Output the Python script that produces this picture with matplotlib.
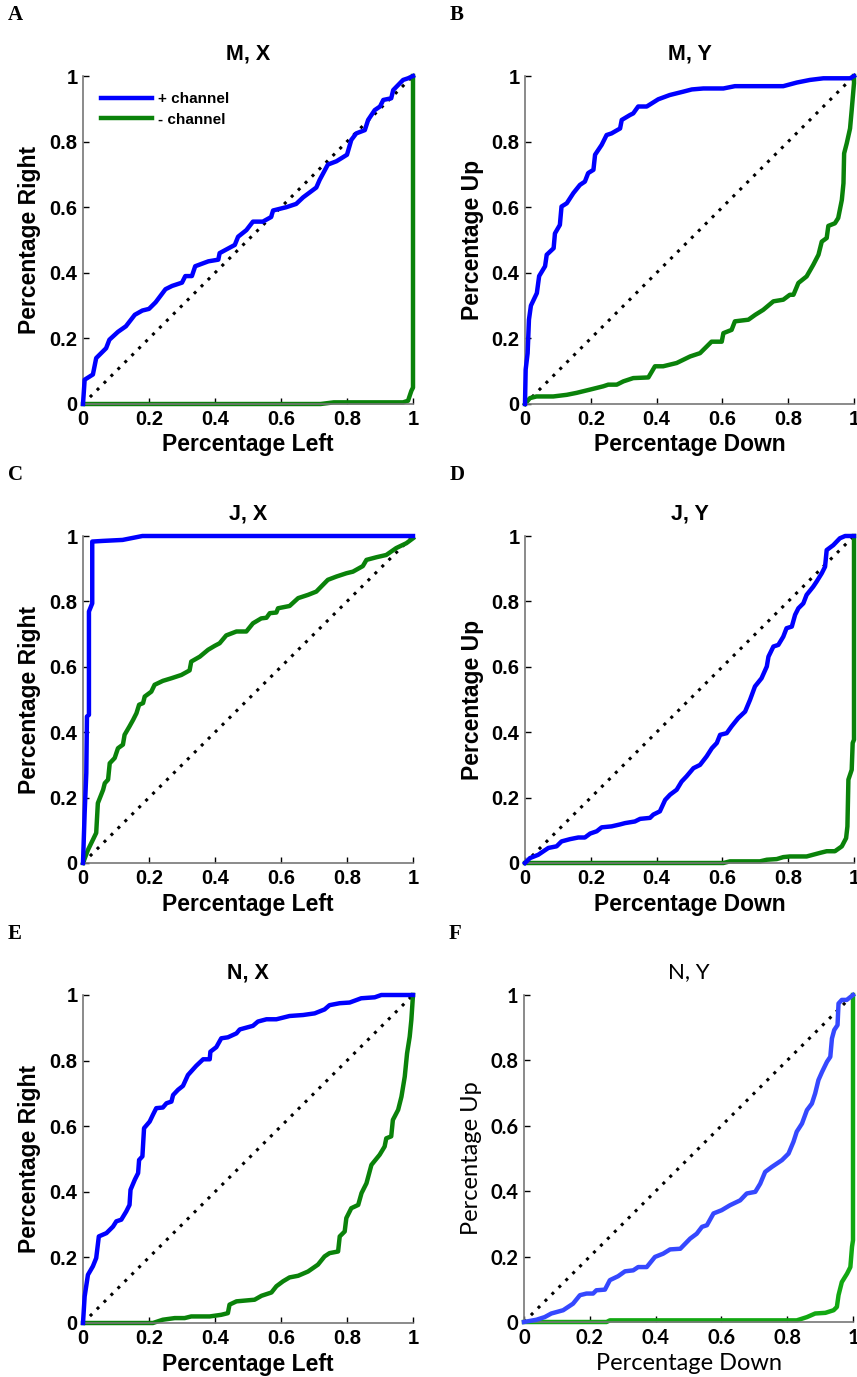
"""Six ROC-style panels: + channel vs - channel, M/J/N monkeys, X/Y axes."""

import matplotlib

matplotlib.use("Agg")
import matplotlib.pyplot as plt

W, H = 857, 1377
BLUE, GREEN = "#0000ff", "#0a820a"

# ---- data (x = false side, y = true side) ----
a_pos_x = [0, 0.005, 0.03, 0.04, 0.07, 0.08, 0.106, 0.13, 0.157, 0.18, 0.20, 0.22, 0.25, 0.27, 0.30,
           0.31, 0.33, 0.34, 0.38, 0.41, 0.414, 0.46, 0.47, 0.495, 0.515, 0.545, 0.57, 0.576, 0.616,
           0.646, 0.667, 0.707, 0.717, 0.742, 0.768, 0.80, 0.813, 0.828, 0.854, 0.864, 0.884, 0.90,
           0.91, 0.934, 0.94, 0.97, 0.985, 1.0]
a_pos_y = [0, 0.074, 0.09, 0.14, 0.17, 0.196, 0.22, 0.237, 0.272, 0.285, 0.29, 0.31, 0.35, 0.36, 0.37,
           0.39, 0.39, 0.42, 0.435, 0.44, 0.46, 0.485, 0.51, 0.53, 0.556, 0.556, 0.57, 0.59, 0.60,
           0.61, 0.63, 0.66, 0.683, 0.73, 0.74, 0.76, 0.805, 0.825, 0.835, 0.866, 0.896, 0.907,
           0.927, 0.932, 0.957, 0.988, 0.993, 1.0]
a_neg_x = [0, 0.72, 0.76, 0.97, 0.985, 0.995, 1.0, 1.0]
a_neg_y = [0, 0.0, 0.005, 0.005, 0.01, 0.04, 0.05, 1.0]

b_pos_x = [0, 0.002, 0.008, 0.012, 0.018, 0.036, 0.043, 0.061, 0.066, 0.087, 0.091, 0.106, 0.111,
           0.127, 0.147, 0.167, 0.182, 0.192, 0.208, 0.213, 0.233, 0.248, 0.263, 0.289, 0.294, 0.319,
           0.329, 0.344, 0.37, 0.405, 0.44, 0.48, 0.507, 0.542, 0.603, 0.638, 0.785, 0.826, 0.866,
           0.907, 0.988, 1.0]
b_pos_y = [0, 0.105, 0.155, 0.257, 0.30, 0.338, 0.39, 0.42, 0.455, 0.475, 0.52, 0.546, 0.602, 0.612,
           0.643, 0.668, 0.678, 0.704, 0.714, 0.76, 0.79, 0.82, 0.825, 0.84, 0.866, 0.881, 0.886,
           0.907, 0.907, 0.929, 0.942, 0.952, 0.959, 0.962, 0.962, 0.969, 0.969, 0.98, 0.988, 0.993,
           0.993, 1.0]
b_neg_x = [0, 0.015, 0.035, 0.086, 0.127, 0.157, 0.198, 0.238, 0.253, 0.279, 0.299, 0.329, 0.375,
           0.395, 0.42, 0.461, 0.502, 0.532, 0.547, 0.567, 0.598, 0.603, 0.628, 0.638, 0.679, 0.70,
           0.724, 0.755, 0.785, 0.805, 0.816, 0.831, 0.856, 0.876, 0.892, 0.902, 0.917, 0.922, 0.942,
           0.952, 0.963, 0.968, 0.97, 0.978, 0.988, 0.993, 1.0, 1.0]
b_neg_y = [0, 0.018, 0.023, 0.023, 0.028, 0.034, 0.044, 0.054, 0.059, 0.059, 0.069, 0.079, 0.081,
           0.115, 0.115, 0.125, 0.145, 0.155, 0.17, 0.19, 0.19, 0.216, 0.226, 0.252, 0.257, 0.272,
           0.287, 0.313, 0.318, 0.333, 0.333, 0.369, 0.389, 0.424, 0.455, 0.495, 0.506, 0.543, 0.551,
           0.567, 0.622, 0.673, 0.764, 0.795, 0.84, 0.896, 0.978, 1.0]

c_pos_x = [0, 0.005, 0.01, 0.012, 0.018, 0.018, 0.028, 0.028, 0.06, 0.12, 0.18, 1.0]
c_pos_y = [0, 0.153, 0.275, 0.448, 0.453, 0.769, 0.794, 0.983, 0.985, 0.988, 1.0, 1.0]
c_neg_x = [0, 0.015, 0.03, 0.04, 0.045, 0.061, 0.066, 0.076, 0.081, 0.096, 0.106, 0.121, 0.126, 0.141,
           0.152, 0.162, 0.17, 0.182, 0.187, 0.207, 0.217, 0.242, 0.268, 0.298, 0.323, 0.328, 0.354,
           0.379, 0.399, 0.414, 0.434, 0.465, 0.495, 0.515, 0.54, 0.556, 0.566, 0.586, 0.591, 0.626,
           0.652, 0.682, 0.707, 0.742, 0.768, 0.798, 0.818, 0.848, 0.859, 0.889, 0.919, 0.949, 0.98,
           1.0]
c_neg_y = [0, 0.04, 0.071, 0.092, 0.183, 0.224, 0.244, 0.255, 0.305, 0.321, 0.351, 0.362, 0.392, 0.418,
           0.438, 0.458, 0.484, 0.489, 0.509, 0.524, 0.545, 0.557, 0.565, 0.575, 0.589, 0.616, 0.631,
           0.652, 0.664, 0.672, 0.696, 0.708, 0.708, 0.733, 0.748, 0.75, 0.764, 0.766, 0.779, 0.786,
           0.81, 0.82, 0.83, 0.866, 0.876, 0.886, 0.891, 0.908, 0.927, 0.935, 0.942, 0.963, 0.978,
           0.993]

d_pos_x = [0, 0.015, 0.04, 0.071, 0.096, 0.111, 0.137, 0.162, 0.182, 0.198, 0.218, 0.233, 0.263, 0.289,
           0.304, 0.334, 0.35, 0.38, 0.39, 0.41, 0.426, 0.441, 0.461, 0.476, 0.491, 0.512, 0.532,
           0.552, 0.568, 0.583, 0.593, 0.613, 0.628, 0.648, 0.669, 0.684, 0.699, 0.719, 0.735, 0.74,
           0.755, 0.77, 0.785, 0.795, 0.811, 0.821, 0.831, 0.846, 0.856, 0.876, 0.886, 0.902, 0.912,
           0.917, 0.937, 0.957, 0.973, 1.0]
d_pos_y = [0, 0.015, 0.025, 0.046, 0.051, 0.066, 0.073, 0.078, 0.078, 0.09, 0.097, 0.109, 0.112, 0.118,
           0.122, 0.127, 0.135, 0.138, 0.148, 0.158, 0.193, 0.209, 0.224, 0.249, 0.265, 0.29, 0.30,
           0.326, 0.351, 0.367, 0.392, 0.397, 0.418, 0.443, 0.463, 0.499, 0.54, 0.565, 0.601, 0.631,
           0.662, 0.667, 0.692, 0.718, 0.723, 0.759, 0.779, 0.794, 0.82, 0.845, 0.86, 0.886, 0.906,
           0.957, 0.972, 0.993, 1.0, 1.0]
d_neg_x = [0, 0.603, 0.623, 0.714, 0.735, 0.765, 0.785, 0.805, 0.856, 0.897, 0.917, 0.942, 0.963, 0.976,
           0.98, 0.983, 0.993, 0.996, 1.0, 1.0]
d_neg_y = [0, 0.0, 0.005, 0.005, 0.01, 0.012, 0.018, 0.02, 0.02, 0.031, 0.036, 0.036, 0.051, 0.076,
           0.112, 0.255, 0.285, 0.367, 0.377, 1.0]

e_pos_x = [0, 0.005, 0.015, 0.03, 0.04, 0.048, 0.071, 0.091, 0.101, 0.116, 0.131, 0.141, 0.144, 0.157,
           0.167, 0.17, 0.18, 0.185, 0.202, 0.212, 0.222, 0.242, 0.253, 0.268, 0.273, 0.288, 0.303,
           0.318, 0.343, 0.364, 0.384, 0.386, 0.404, 0.419, 0.439, 0.465, 0.475, 0.515, 0.53, 0.556,
           0.586, 0.626, 0.667, 0.702, 0.732, 0.747, 0.778, 0.808, 0.843, 0.884, 0.904, 0.975, 1.0]
e_pos_y = [0, 0.081, 0.147, 0.173, 0.198, 0.264, 0.274, 0.294, 0.31, 0.315, 0.34, 0.36, 0.406, 0.437,
           0.457, 0.497, 0.508, 0.594, 0.614, 0.635, 0.655, 0.657, 0.67, 0.675, 0.695, 0.711, 0.723,
           0.756, 0.784, 0.804, 0.804, 0.827, 0.841, 0.868, 0.871, 0.883, 0.895, 0.906, 0.919, 0.926,
           0.926, 0.936, 0.939, 0.944, 0.956, 0.969, 0.975, 0.977, 0.99, 0.993, 1.0, 1.0, 1.0]
e_neg_x = [0, 0.212, 0.242, 0.278, 0.308, 0.328, 0.384, 0.419, 0.439, 0.444, 0.465, 0.52, 0.541, 0.571,
           0.586, 0.606, 0.626, 0.652, 0.682, 0.712, 0.732, 0.747, 0.773, 0.778, 0.793, 0.798, 0.813,
           0.834, 0.844, 0.859, 0.874, 0.899, 0.914, 0.919, 0.934, 0.939, 0.955, 0.965, 0.975, 0.982,
           0.99, 0.995, 1.0]
e_neg_y = [0, 0.0, 0.01, 0.015, 0.015, 0.02, 0.02, 0.025, 0.03, 0.056, 0.066, 0.071, 0.083, 0.093,
           0.112, 0.127, 0.139, 0.144, 0.157, 0.178, 0.203, 0.213, 0.218, 0.264, 0.279, 0.32, 0.35,
           0.36, 0.396, 0.426, 0.482, 0.513, 0.538, 0.563, 0.569, 0.619, 0.65, 0.69, 0.751, 0.822,
           0.873, 0.924, 1.0]

f_pos_x = [0, 0.038, 0.063, 0.083, 0.119, 0.149, 0.17, 0.19, 0.21, 0.22, 0.246, 0.261, 0.286, 0.307,
           0.332, 0.347, 0.373, 0.398, 0.423, 0.444, 0.475, 0.505, 0.525, 0.541, 0.556, 0.576, 0.601,
           0.626, 0.657, 0.677, 0.703, 0.718, 0.733, 0.753, 0.784, 0.804, 0.819, 0.829, 0.845, 0.86,
           0.875, 0.885, 0.895, 0.906, 0.921, 0.931, 0.936, 0.943, 0.953, 0.956, 0.966, 0.981, 1.0]
f_pos_y = [0, 0.007, 0.015, 0.026, 0.036, 0.056, 0.082, 0.087, 0.087, 0.097, 0.099, 0.128, 0.14, 0.155,
           0.158, 0.168, 0.168, 0.199, 0.209, 0.222, 0.224, 0.255, 0.27, 0.291, 0.296, 0.332, 0.342,
           0.357, 0.372, 0.393, 0.398, 0.423, 0.459, 0.474, 0.495, 0.515, 0.551, 0.582, 0.607, 0.648,
           0.668, 0.699, 0.74, 0.765, 0.796, 0.811, 0.867, 0.893, 0.908, 0.974, 0.985, 0.985, 1.0]
f_neg_x = [0, 0.251, 0.261, 0.829, 0.86, 0.885, 0.916, 0.941, 0.951, 0.956, 0.966, 0.982, 0.992, 0.997,
           1.0, 1.0]
f_neg_y = [0, 0.0, 0.005, 0.005, 0.015, 0.026, 0.028, 0.036, 0.046, 0.082, 0.122, 0.148, 0.168, 0.23,
           0.25, 1.0]

letters = ["A", "B", "C", "D", "E", "F"]
titles = ["M, X", "M, Y", "J, X", "J, Y", "N, X", "N, Y"]
xlabels = ["Percentage Left", "Percentage Down"] * 3
ylabels = ["Percentage Right", "Percentage Up"] * 3
ticks = [0, 0.2, 0.4, 0.6, 0.8, 1]
tick_labels = ["0", "0.2", "0.4", "0.6", "0.8", "1"]
curves = [
    (a_pos_x, a_pos_y, a_neg_x, a_neg_y),
    (b_pos_x, b_pos_y, b_neg_x, b_neg_y),
    (c_pos_x, c_pos_y, c_neg_x, c_neg_y),
    (d_pos_x, d_pos_y, d_neg_x, d_neg_y),
    (e_pos_x, e_pos_y, e_neg_x, e_neg_y),
    (f_pos_x, f_pos_y, f_neg_x, f_neg_y),
]

# axes boxes in pixels: left, top, right, bottom
boxes = [(83, 76, 413, 404), (525, 76, 854, 404),
         (83, 536, 413, 863), (525, 536, 854, 863),
         (83, 995, 413, 1323), (524, 995, 853, 1322)]

fig = plt.figure(figsize=(W / 100, H / 100), dpi=100)

for i, (l, t, r, b) in enumerate(boxes):
    ax = fig.add_axes([l / W, 1 - b / H, (r - l) / W, (b - t) / H])
    px, py, nx, ny = curves[i]
    last = i == 5
    blue = "#3548ff" if last else BLUE
    green = "#12a812" if last else GREEN
    ax.plot([0, 1], [0, 1], color="black", ls=(0, (1, 2.2)), lw=2.2, clip_on=False, zorder=1)
    ax.plot(nx, ny, color=green, lw=3.2, clip_on=False, zorder=2, label="- channel",
            solid_joinstyle="round")
    ax.plot(px, py, color=blue, lw=3.2, clip_on=False, zorder=3, label="+ channel",
            solid_joinstyle="round")
    ax.set_xlim(0, 1)
    ax.set_ylim(0, 1)
    for s in ("top", "right"):
        ax.spines[s].set_visible(False)
    for s in ("left", "bottom"):
        ax.spines[s].set_color("#777777")
        ax.spines[s].set_linewidth(1.2)
    ax.set_xticks(ticks)
    ax.set_yticks(ticks)

    if last:
        fam, tw, lw_ = ["Lato", "DejaVu Sans"], "bold", "normal"
        tick_fs, lab_fs, tit_fs = 14.5, 17, 16
    else:
        fam, tw, lw_ = ["Liberation Sans", "DejaVu Sans"], "bold", "bold"
        tick_fs, lab_fs, tit_fs = 14.5, 16.5, 15.5
    ax.set_xticklabels(tick_labels, family=fam, weight=tw, fontsize=tick_fs)
    ax.set_yticklabels(tick_labels, family=fam, weight=tw, fontsize=tick_fs)
    ax.tick_params(direction="in", length=4, width=1, color="black", pad=4)

    ax.set_title(titles[i], family=fam, weight=lw_, fontsize=tit_fs, pad=12)
    ax.set_xlabel(xlabels[i], family=fam, weight=lw_, fontsize=lab_fs, va="center")
    ax.set_ylabel(ylabels[i], family=fam, weight=lw_, fontsize=lab_fs, va="center")
    ax.xaxis.set_label_coords(0.5, -41 / (b - t))
    ax.yaxis.set_label_coords(-53 / (r - l), 0.5)

    fig.text((l - 75) / W, 1 - (t - 61) / H, letters[i], family="Liberation Serif",
             weight="bold", fontsize=15, ha="left", va="center")

    if i == 0:
        h, lab = ax.get_legend_handles_labels()
        ax.legend(h[::-1], lab[::-1], loc="upper left", frameon=False,
                  bbox_to_anchor=(0.055, 0.95), borderaxespad=0, borderpad=0,
                  handlelength=3.3, handletextpad=0.4, labelspacing=0.4,
                  prop={"family": "Liberation Sans", "weight": "bold", "size": 11})

fig.savefig("out.png", dpi=100)
